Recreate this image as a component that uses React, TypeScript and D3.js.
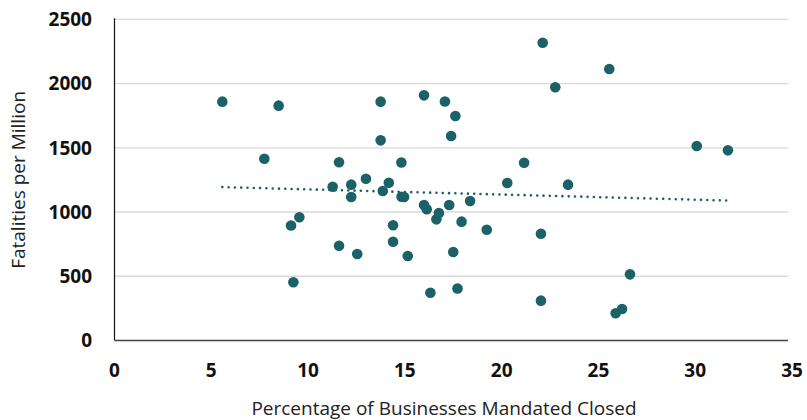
import React from "react";
import * as d3 from "d3";

const closedPct = [
  5.57, 8.48, 7.74, 9.12, 9.55, 9.24, 11.6, 11.27, 12.23, 12.99,
  12.23, 11.6, 12.54, 13.75, 13.75, 14.17, 13.86, 14.39, 14.39, 14.82,
  14.83, 14.96, 15.15, 15.99, 15.99, 16.13, 16.63, 16.76, 16.32, 17.07,
  17.61, 17.39, 17.29, 17.5, 17.72, 17.93, 18.37, 19.23, 20.29, 21.16,
  22.03, 22.03, 22.12, 22.77, 23.43, 25.56, 26.63, 25.89, 26.22, 30.08,
  31.69,
];
const fatalities = [
  1859, 1828, 1415, 895, 959, 453, 1387, 1197, 1213, 1259,
  1117, 738, 673, 1859, 1558, 1228, 1164, 897, 769, 1385,
  1119, 1117, 658, 1908, 1055, 1021, 943, 992, 372, 1860,
  1747, 1592, 1055, 689, 405, 925, 1086, 862, 1226, 1384,
  831, 310, 2318, 1971, 1213, 2113, 515, 212, 245, 1514,
  1480,
];
const xTicks = [0, 5, 10, 15, 20, 25, 30, 35];
const yTicks = [0, 500, 1000, 1500, 2000, 2500];
const xTitle = "Percentage of Businesses Mandated Closed";
const yTitle = "Fatalities per Million";

const W = 807;
const H = 420;
const left = 114.5;
const right = 792;
const top = 19.3;
const bottom = 340.5;
const color = "#1b6168";
const font = "'Open Sans', 'Noto Sans', sans-serif";

export default function App() {
  const x = d3.scaleLinear().domain([0, 35]).range([left, right]);
  const y = d3.scaleLinear().domain([0, 2500]).range([bottom, top]);

  const n = closedPct.length;
  const mx = d3.mean(closedPct) as number;
  const my = d3.mean(fatalities) as number;
  let sxy = 0;
  let sxx = 0;
  for (let i = 0; i < n; i++) {
    sxy += (closedPct[i] - mx) * (fatalities[i] - my);
    sxx += (closedPct[i] - mx) ** 2;
  }
  const slope = sxy / sxx;
  const icpt = my - slope * mx;
  const xMin = d3.min(closedPct) as number;
  const xMax = d3.max(closedPct) as number;
  const trend = d3
    .line<number>()
    .x((d) => x(d))
    .y((d) => y(icpt + slope * d))([xMin, xMax]);

  const gridRight = 788;

  return (
    <svg
      width={W}
      height={H}
      style={{ position: "absolute", left: 0, top: 0, background: "#fff" }}
      fontFamily={font}
    >
      <rect width={W} height={H} fill="#fff" />
      {yTicks.map((t) => (
        <g key={t}>
          {t > 0 && (
            <line x1={left} x2={gridRight} y1={y(t)} y2={y(t)} stroke="#d9d9d9" strokeWidth={1.3} />
          )}
          <text
            x={92}
            y={y(t)}
            dy="0.36em"
            textAnchor="end"
            fontSize={19}
            fontWeight={700}
            fill="#111"
          >
            {t}
          </text>
        </g>
      ))}
      <line x1={left} x2={left} y1={top - 1} y2={bottom} stroke="#111" strokeWidth={1.2} />
      <line x1={left} x2={gridRight} y1={bottom} y2={bottom} stroke="#444" strokeWidth={1.6} />
      {xTicks.map((t) => (
        <text
          key={t}
          x={x(t)}
          y={377}
          textAnchor="middle"
          fontSize={19}
          fontWeight={700}
          fill="#111"
        >
          {t}
        </text>
      ))}
      <path
        d={trend || ""}
        fill="none"
        stroke={color}
        strokeWidth={2.6}
        strokeDasharray="0 6.3"
        strokeLinecap="round"
      />
      {closedPct.map((v, i) => (
        <circle key={i} cx={x(v)} cy={y(fatalities[i])} r={5.3} fill={color} />
      ))}
      <text x={444} y={414.5} textAnchor="middle" fontSize={19} fill="#222">
        {xTitle}
      </text>
      <text
        transform={`translate(24.5, ${(top + bottom) / 2}) rotate(-90)`}
        textAnchor="middle"
        fontSize={19}
        fill="#222"
      >
        {yTitle}
      </text>
    </svg>
  );
}
